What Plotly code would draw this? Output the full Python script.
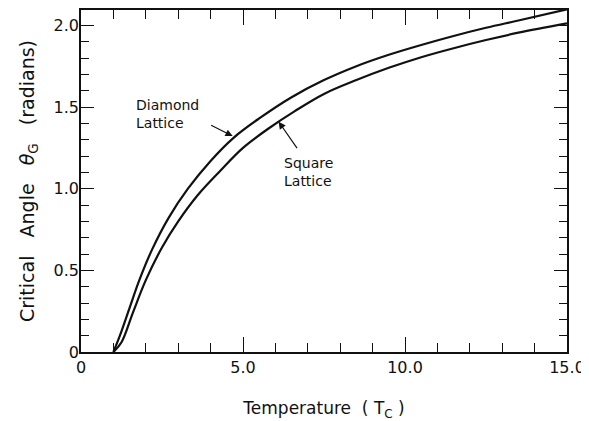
import plotly.graph_objects as go

# Critical angle vs temperature
diamond_T = [1.0, 1.2, 1.5, 1.8, 2.2, 2.7, 3.3, 4.0, 4.7, 5.5, 6.5, 7.5, 8.5, 9.5, 10.5, 11.5, 12.5, 13.5, 15.0]
diamond_theta = [0.0, 0.10, 0.27, 0.44, 0.63, 0.82, 1.00, 1.17, 1.31, 1.43, 1.56, 1.665, 1.75, 1.82, 1.88, 1.935, 1.985, 2.03, 2.098]

square_T = [1.0, 1.25, 1.6, 2.0, 2.5, 3.0, 3.6, 4.3, 5.0, 5.8, 6.6, 7.5, 8.5, 9.5, 10.5, 11.5, 12.5, 13.5, 15.0]
square_theta = [0.0, 0.06, 0.24, 0.44, 0.64, 0.80, 0.96, 1.11, 1.25, 1.37, 1.475, 1.58, 1.665, 1.74, 1.805, 1.86, 1.91, 1.955, 2.012]

x_tickvals = [0, 5, 10, 15]
x_ticktext = ["0", "5.0", "10.0", "15.0"]
y_tickvals = [0, 0.5, 1.0, 1.5, 2.0]
y_ticktext = ["0", "0.5", "1.0", "1.5", "2.0"]

FONT = "DejaVu Sans"
INK = "#111111"

fig = go.Figure()
for T, th, name in [(diamond_T, diamond_theta, "Diamond Lattice"),
                    (square_T, square_theta, "Square Lattice")]:
    fig.add_trace(go.Scatter(x=T, y=th, mode="lines", name=name,
                             line=dict(color=INK, width=2.2, shape="spline", smoothing=1.0),
                             showlegend=False, hoverinfo="skip"))

axis_common = dict(
    showgrid=False, zeroline=False, showline=True, linecolor=INK, linewidth=1.5,
    mirror="ticks", ticks="inside", tickcolor=INK, tickwidth=1.3, automargin=False,
    tickfont=dict(family=FONT, size=16, color=INK),
)

NB = "\u00a0"
fig.update_xaxes(range=[0, 15], tickvals=x_tickvals, ticktext=x_ticktext, ticklen=15,
                 minor=dict(ticks="inside", dtick=1, ticklen=9, tickcolor=INK, tickwidth=1.3),
                 title=dict(text="Temperature" + NB + " ( T<sub>C</sub> )",
                            font=dict(family=FONT, size=17, color=INK), standoff=31),
                 **axis_common)
fig.update_yaxes(range=[0, 2.094], tickvals=y_tickvals, ticktext=y_ticktext, ticklen=13,
                 ticklabelstandoff=-3,
                 minor=dict(ticks="inside", dtick=0.1, ticklen=8, tickcolor=INK, tickwidth=1.3),
                 title=dict(text="Critical" + NB * 2 + " Angle" + NB * 2 + " <i>θ</i><sub>G</sub>" + NB * 2 + " (radians)",
                            font=dict(family=FONT, size=19, color=INK), standoff=14),
                 **axis_common)

lab_font = dict(family=FONT, size=14, color=INK)
fig.add_annotation(x=1.65, y=1.46, xref="x", yref="y", text="Diamond<br>Lattice",
                   showarrow=False, xanchor="left", yanchor="middle", align="left", font=lab_font)
fig.add_annotation(x=6.19, y=1.104, xref="x", yref="y", text="Square<br>Lattice",
                   showarrow=False, xanchor="left", yanchor="middle", align="left", font=lab_font)
fig.add_annotation(x=4.68, y=1.322, ax=3.97, ay=1.393, xref="x", yref="y", axref="x", ayref="y",
                   text="", showarrow=True, arrowhead=2, arrowsize=1.2, arrowwidth=1.2, arrowcolor=INK)
fig.add_annotation(x=6.10, y=1.41, ax=6.70, ay=1.239, xref="x", yref="y", axref="x", ayref="y",
                   text="", showarrow=True, arrowhead=2, arrowsize=1.2, arrowwidth=1.2, arrowcolor=INK)

# page body has an 8px margin, so the figure is sized/offset to land on the reference pixels
fig.update_layout(width=581, height=413, margin=dict(l=73, r=22, t=2, b=69),
                  paper_bgcolor="white", plot_bgcolor="white")

fig.write_html("out.html")
